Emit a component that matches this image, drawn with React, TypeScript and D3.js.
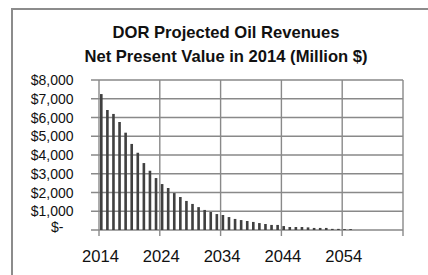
import {default as React, useEffect, useRef} from "react";
import * as d3 from "d3";

const years: number[] = d3.range(2014, 2056);
const revenues: number[] = [
    7250, 6400, 6190, 5760, 5190, 4590, 4120, 3570, 3160, 2770,
    2450, 2240, 1970, 1760, 1550, 1390, 1220, 1070, 960, 850,
    800, 690, 590, 530, 480, 430, 370, 320, 270, 270,
    210, 160, 160, 160, 140, 110, 110, 110, 60, 60,
    50, 50
];
const yTicks: number[] = [0, 1000, 2000, 3000, 4000, 5000, 6000, 7000, 8000];
const xTicks: number[] = [2014, 2024, 2034, 2044, 2054, 2064];
const xLabels: number[] = [2014, 2024, 2034, 2044, 2054];
const titleLines: string[] = ["DOR Projected Oil Revenues", "Net Present Value in 2014 (Million $)"];

const width = 428;
const height = 275;
const margin = {
    top: 80,
    bottom: 45,
    left: 99,
    right: 25
};
const gridColor = "#898989";
const font = "'Liberation Sans', Arial, sans-serif";

export default function App() {

    const containerRef = useRef<SVGSVGElement>(null);

    useEffect(
        () => {
            drawChart();
        },
        []
    );

    function drawChart() {
        const svg = d3.select(containerRef.current);
        svg.selectAll("*").remove();

        const xScale = d3.scaleLinear()
            .domain([2014, 2064])
            .range([margin.left, width - margin.right]);

        const yScale = d3.scaleLinear()
            .domain([0, 8000])
            .range([height - margin.bottom, margin.top]);

        // outer chart frame (runs off the right and bottom of the picture)
        svg.append("rect")
            .attr("x", 12)
            .attr("y", 9)
            .attr("width", width + 10)
            .attr("height", height + 10)
            .attr("fill", "none")
            .attr("stroke", "#8c8c8c")
            .attr("stroke-width", 2);

        const title = svg.append("text")
            .attr("text-anchor", "middle")
            .attr("font-family", font)
            .attr("font-weight", "bold")
            .attr("font-size", 16.6)
            .attr("fill", "#111");
        titleLines.forEach((line, i) => {
            title.append("tspan")
                .attr("x", 226)
                .attr("y", 38 + i * 23.5)
                .text(line);
        });

        // horizontal gridlines + y ticks
        svg.append("g")
            .selectAll("line")
            .data(yTicks)
            .join("line")
            .attr("x1", margin.left - 8)
            .attr("x2", width - margin.right)
            .attr("y1", d => yScale(d))
            .attr("y2", d => yScale(d))
            .attr("stroke", gridColor)
            .attr("stroke-width", 1.3);

        // vertical gridlines + x ticks
        svg.append("g")
            .selectAll("line")
            .data(xTicks)
            .join("line")
            .attr("x1", d => xScale(d))
            .attr("x2", d => xScale(d))
            .attr("y1", margin.top)
            .attr("y2", height - margin.bottom + 6)
            .attr("stroke", gridColor)
            .attr("stroke-width", 1.4);

        svg.append("g")
            .selectAll("text")
            .data(yTicks)
            .join("text")
            .attr("x", d => d === 0 ? 63.5 : 73.5)
            .attr("y", d => yScale(d))
            .attr("dy", d => d === 0 ? 1.5 : 5)
            .attr("text-anchor", "end")
            .attr("font-family", font)
            .attr("font-size", 14)
            .attr("fill", "#111")
            .text(d => d === 0 ? "$-" : "$" + d3.format(",")(d));

        svg.append("g")
            .selectAll("text")
            .data(xLabels)
            .join("text")
            .attr("x", d => xScale(d) + 1.5)
            .attr("y", 262)
            .attr("text-anchor", "middle")
            .attr("font-family", font)
            .attr("font-size", 16.6)
            .attr("fill", "#111")
            .text(d => d);

        const step = xScale(2015) - xScale(2014);
        svg.append("g")
            .selectAll("rect")
            .data(revenues)
            .join("rect")
            .attr("x", (d, i) => xScale(years[i]) + 1)
            .attr("y", d => yScale(d))
            .attr("width", step * 0.43)
            .attr("height", d => yScale(0) - yScale(d))
            .attr("fill", "#404040");
    }

    return (
        <svg
            width={width}
            height={height}
            style={{position: "absolute", left: 0, top: 0, backgroundColor: "white"}}
            ref={containerRef}
        />
    );
}
